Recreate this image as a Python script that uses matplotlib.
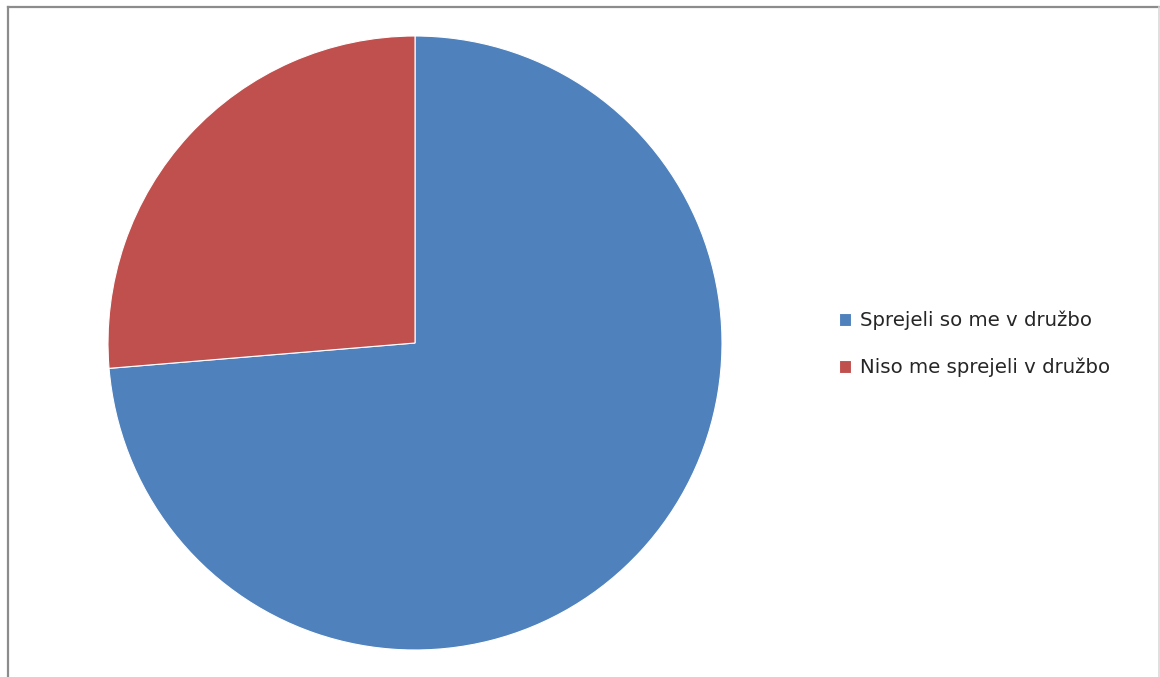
import matplotlib

matplotlib.use("Agg")
import matplotlib.pyplot as plt
from matplotlib.lines import Line2D

# survey answers
labels = ["Sprejeli so me v družbo", "Niso me sprejeli v družbo"]
counts = [28, 10]
colors = ["#4F81BD", "#C0504D"]

W, H = 1160, 677
fig = plt.figure(figsize=(W / 100, H / 100), dpi=100)

# chart frame: darker on top/left, faint on the right
fig.add_artist(Line2D([7.5 / W, 7.5 / W], [0, 1 - 6.5 / H], color="#8c8c8c", lw=1.6))
fig.add_artist(Line2D([7.5 / W, 1159 / W], [1 - 6.5 / H, 1 - 6.5 / H], color="#8c8c8c", lw=1.6))
fig.add_artist(Line2D([1158.5 / W, 1158.5 / W], [0, 1 - 6.5 / H], color="#d9d9d9", lw=1.2))

cx, cy, r = 415, 343, 307
ax = fig.add_axes([(cx - r) / W, (H - cy - r) / H, 2 * r / W, 2 * r / H])
wedges, _ = ax.pie(
    counts,
    colors=colors,
    startangle=90,
    counterclock=False,
    radius=1.0,
    wedgeprops={"edgecolor": "white", "linewidth": 0.8},
)
ax.set_xlim(-1, 1)
ax.set_ylim(-1, 1)
ax.set_aspect("equal")
ax.axis("off")

fig.legend(
    wedges,
    labels,
    loc="center left",
    bbox_to_anchor=(829 / W, 1 - 344 / H),
    frameon=False,
    prop={"family": "DejaVu Sans", "size": 14.2},
    labelcolor="#262626",
    handlelength=0.62,
    handleheight=0.62,
    handletextpad=0.45,
    labelspacing=1.4,
    borderpad=0,
)

fig.savefig("out.png", dpi=100)
